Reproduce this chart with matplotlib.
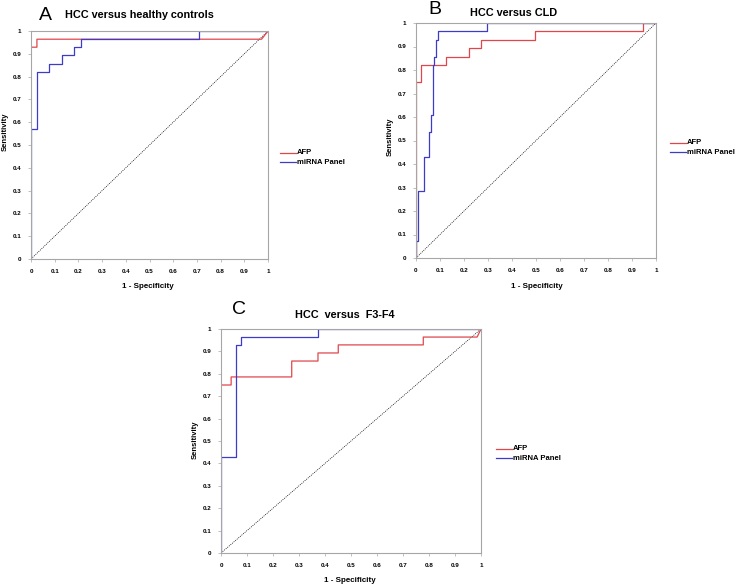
import matplotlib
matplotlib.use("Agg")
import matplotlib.pyplot as plt
import numpy as np

plt.rcParams["font.family"] = ["Liberation Sans", "DejaVu Sans"]

W, H = 745, 585

# ROC step curves (1 - specificity, sensitivity)
afp_a_x = [0, 0, 0.025, 0.025, 0.973, 1]
afp_a_y = [0, 0.929, 0.929, 0.964, 0.964, 1]
mir_a_x = [0, 0, 0.024, 0.024, 0.077, 0.077, 0.132, 0.132, 0.181, 0.181, 0.211, 0.211, 0.709, 0.709, 1]
mir_a_y = [0, 0.571, 0.571, 0.821, 0.821, 0.857, 0.857, 0.893, 0.893, 0.929, 0.929, 0.964, 0.964, 1, 1]

afp_b_x = [0, 0, 0.022, 0.022, 0.127, 0.127, 0.222, 0.222, 0.27, 0.27, 0.497, 0.497, 0.945, 0.945, 1]
afp_b_y = [0, 0.75, 0.75, 0.821, 0.821, 0.857, 0.857, 0.893, 0.893, 0.929, 0.929, 0.964, 0.964, 1, 1]
mir_b_x = [0, 0, 0.007, 0.007, 0.032, 0.032, 0.056, 0.056, 0.063, 0.063, 0.07, 0.07, 0.077, 0.077,
           0.084, 0.084, 0.09, 0.09, 0.297, 0.297, 1]
mir_b_y = [0, 0.071, 0.071, 0.286, 0.286, 0.429, 0.429, 0.536, 0.536, 0.607, 0.607, 0.821, 0.821, 0.857,
           0.857, 0.929, 0.929, 0.964, 0.964, 1, 1]

afp_c_x = [0, 0, 0.039, 0.039, 0.272, 0.272, 0.373, 0.373, 0.451, 0.451, 0.778, 0.778, 0.985, 1]
afp_c_y = [0, 0.75, 0.75, 0.786, 0.786, 0.857, 0.857, 0.893, 0.893, 0.929, 0.929, 0.964, 0.964, 1]
mir_c_x = [0, 0, 0.058, 0.058, 0.078, 0.078, 0.373, 0.373, 1]
mir_c_y = [0, 0.429, 0.429, 0.929, 0.929, 0.964, 0.964, 1, 1]

ticks = [0, 0.1, 0.2, 0.3, 0.4, 0.5, 0.6, 0.7, 0.8, 0.9, 1]
tick_labels = ["0", "0.1", "0.2", "0.3", "0.4", "0.5", "0.6", "0.7", "0.8", "0.9", "1"]

RED = "#e0474c"
BLUE = "#3c3cc8"
GRAY = "#a6a6a6"


def fx(px):
    return px / W


def fy(py):
    return 1 - py / H


def panel(fig, box, letter, title, afp, mir, pos):
    # box: left, top, right, bottom in pixels
    l, t, r, b = box
    ax = fig.add_axes([fx(l), fy(b), fx(r) - fx(l), fy(t) - fy(b)])
    ax.plot([0, 1], [0, 1], color="black", lw=0.5, ls=(0, (1.5, 1.5)))
    ax.plot(afp[0], afp[1], color=RED, lw=0.9)
    ax.plot(mir[0], mir[1], color=BLUE, lw=0.9)
    ax.set_xlim(0, 1)
    ax.set_ylim(0, 1)
    ax.set_xticks(ticks)
    ax.set_xticklabels(tick_labels, fontsize=4.5, fontweight="bold")
    ax.set_yticks(ticks)
    ax.set_yticklabels(tick_labels, fontsize=4.5, fontweight="bold")
    ax.tick_params(length=2, width=0.5, color=GRAY, pad=5)
    for s in ax.spines.values():
        s.set_color(GRAY)
        s.set_linewidth(0.8)

    lx, ly, tx, ty, sx, sy, px_, py_, legx, legy = pos
    fig.text(fx(lx), fy(ly), letter, fontsize=14, ha="center", va="center")
    fig.text(fx(tx), fy(ty), title, fontsize=7.8, fontweight="bold", ha="left", va="center")
    fig.text(fx(sx), fy(sy), "Sensitivity", fontsize=5.5, fontweight="bold", rotation=90,
             ha="center", va="center")
    fig.text(fx(px_), fy(py_), "1 - Specificity", fontsize=5.8, fontweight="bold",
             ha="center", va="center")
    for i, (c, lab) in enumerate([(RED, "AFP"), (BLUE, "miRNA Panel")]):
        yy = legy + i * 9
        fig.add_artist(plt.Line2D([fx(legx), fx(legx + 16)], [fy(yy), fy(yy)], color=c, lw=0.9))
        fig.text(fx(legx + 17), fy(yy), lab, fontsize=5.5, fontweight="bold", ha="left", va="center")
    return ax


fig = plt.figure(figsize=(W / 100, H / 100), dpi=100)

panel(fig, (31, 31, 268, 259), "A", "HCC versus healthy controls",
      (afp_a_x, afp_a_y), (mir_a_x, mir_a_y),
      (45, 15, 65, 15, 5, 132, 148, 287, 280, 153))
panel(fig, (416, 23, 656, 258), "B", "HCC versus CLD",
      (afp_b_x, afp_b_y), (mir_b_x, mir_b_y),
      (435, 10, 470, 13, 390, 137, 537, 286, 670, 143))
panel(fig, (221, 329, 481, 553), "C", "HCC  versus  F3-F4",
      (afp_c_x, afp_c_y), (mir_c_x, mir_c_y),
      (239, 310, 295, 315, 195, 440, 350, 580, 496, 449))

fig.savefig("out.png", dpi=100)
